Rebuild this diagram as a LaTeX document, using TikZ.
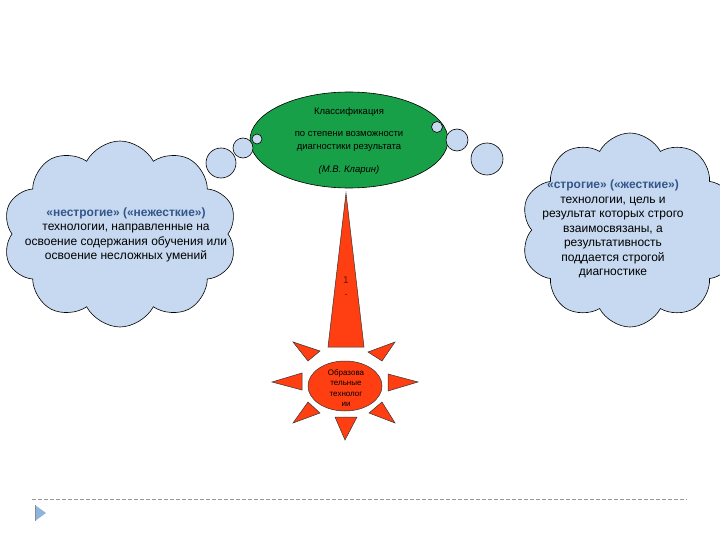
\documentclass[tikz,border=0pt]{standalone}
\usepackage{fontspec}
\setmainfont{Liberation Sans}
\usetikzlibrary{shapes.symbols,shapes.geometric}
\definecolor{cloudblue}{RGB}{198,217,240}
\definecolor{leafgreen}{RGB}{24,160,72}
\definecolor{sunred}{RGB}{255,62,18}
\definecolor{titleblue}{RGB}{52,86,138}
\definecolor{markblue}{RGB}{140,180,220}
\begin{document}
\begin{tikzpicture}[x=1pt,y=-1pt,
  thought/.style={cloud, cloud puffs=10, cloud puff arc=125, cloud ignores aspect, draw=black, line width=0.6pt, fill=cloudblue, inner sep=0pt},
  bubble/.style={circle, draw=black, line width=0.6pt, fill=cloudblue, inner sep=0pt},
  ray/.style={draw=black!80, line width=0.5pt, fill=sunred, line join=miter},
  cloudtext/.style={align=center, font=\fontsize{12}{14.5}\selectfont, text=black},
  leaftext/.style={font=\fontsize{9.5}{10}\selectfont, text=black},
  suntext/.style={align=center, font=\fontsize{8}{10.5}\selectfont, text=black}]
\useasboundingbox (0,0) rectangle (720,540);

% clouds
\node[thought, minimum width=234, minimum height=186] (lcloud) at (120,234) {};
\node[thought, cloud puffs=10, shape border rotate=14, minimum width=218, minimum height=194] (rcloud) at (630,230) {};

\node[cloudtext] (ltext) at (126,235) {\textcolor{titleblue}{\textbf{«нестрогие» («нежесткие»)}}\\технологии, направленные на\\освоение содержания обучения или\\освоение несложных умений};
\node[cloudtext] (rtext) at (613,229) {\textcolor{titleblue}{\textbf{«строгие» («жесткие»)}}\\технологии, цель и\\результат которых строго\\взаимосвязаны, а\\результативность\\поддается строгой\\диагностике};

% green ellipse
\node[ellipse, draw=black, line width=0.6pt, fill=leafgreen, minimum width=198, minimum height=96, inner sep=0pt] (cls) at (349,140) {};
\node[leaftext] (t1) at (349,112) {Классификация};
\node[leaftext, align=center, font=\fontsize{9.5}{13}\selectfont] (t2) at (349,141) {по степени возможности\\диагностики результата};
\node[leaftext, font=\fontsize{9.5}{10}\selectfont\itshape] (t3) at (349,170) {(М.В. Кларин)};

% thought bubbles
\node[bubble, minimum size=10] (lb1) at (257,139) {};
\node[bubble, minimum size=20] (lb2) at (243,148) {};
\node[bubble, minimum size=30] (lb3) at (221,163) {};
\node[bubble, minimum size=11] (rb1) at (437,127) {};
\node[bubble, minimum size=22] (rb2) at (457,140) {};
\node[bubble, minimum size=32] (rb3) at (487,159) {};

% big spike
\coordinate (apex) at (346,193);
\coordinate (bl) at (328,347);
\coordinate (br) at (364,347);
\draw[ray] (apex) -- (br) -- (bl) -- cycle;
\node[font=\fontsize{10}{11}\selectfont, text=black!60!sunred] (one) at (346,280) {1};
\node[font=\fontsize{9}{10}\selectfont, text=black!60!sunred] (dot) at (346,296) {-};

% sun
\node[ellipse, draw=black!80, line width=0.5pt, fill=sunred, minimum width=74, minimum height=50, inner sep=0pt] (sun) at (345,386) {};
\node[suntext] (st) at (346,388) {Образова\\тельные\\технолог\\ии};
\draw[ray] (293,342) -- (320,351) -- (308,361) -- cycle;
\draw[ray] (395,342) -- (368,352) -- (382,361) -- cycle;
\draw[ray] (272,382) -- (302,373) -- (302,390) -- cycle;
\draw[ray] (418,382) -- (388,374) -- (388,391) -- cycle;
\draw[ray] (293,423) -- (308,402) -- (320,413) -- cycle;
\draw[ray] (395,423) -- (382,402) -- (369,413) -- cycle;
\draw[ray] (345,440) -- (335,417) -- (357,417) -- cycle;

% footer
\coordinate (fl) at (32,499);
\coordinate (fr) at (687,499);
\draw[black!40, dash pattern=on 4pt off 2pt, line width=0.6pt] (fl) -- (fr);
\fill[markblue] (35,505) -- (46,513) -- (35,521) -- cycle;
\draw[black!45, line width=0.8pt] (35,505) -- (35,521);
\end{tikzpicture}
\end{document}
